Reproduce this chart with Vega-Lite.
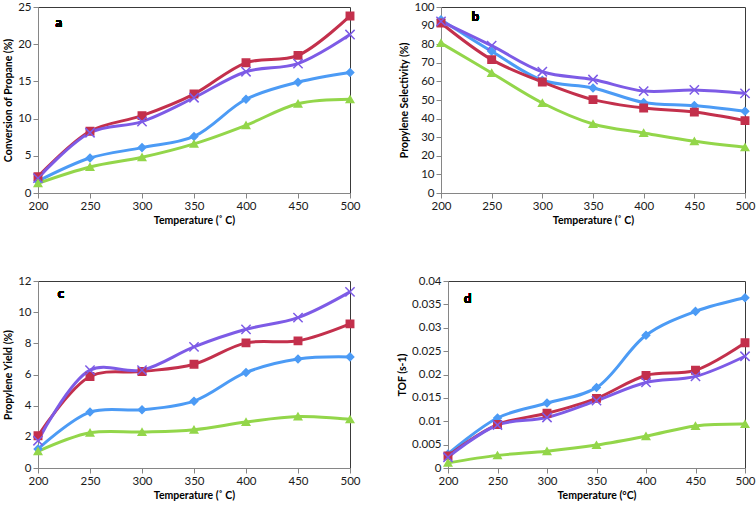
{
  "$schema": "https://vega.github.io/schema/vega-lite/v6.json",
  "background": "white",
  "padding": {"left": 3, "top": 0, "right": 0, "bottom": 0},
  "config": {
    "font": "Lato",
    "view": {"stroke": "#3a3a3a", "strokeWidth": 1},
    "axis": {
      "grid": false,
      "domainColor": "#868686",
      "tickColor": "#868686",
      "tickSize": 5,
      "labelFlush": false,
      "labelOverlap": false,
      "labelFont": "Lato",
      "labelFontSize": 11.5,
      "labelColor": "#1a1a1a",
      "titleFont": "Lato",
      "titleFontSize": 10.5,
      "titleFontWeight": "bold",
      "titleColor": "#000000"
    }
  },
  "datasets": {
    "a": [
      {"series": "S1", "temp": 200, "value": 1.6}, {"series": "S1", "temp": 250, "value": 4.7}, {"series": "S1", "temp": 300, "value": 6.1}, {"series": "S1", "temp": 350, "value": 7.6}, {"series": "S1", "temp": 400, "value": 12.6}, {"series": "S1", "temp": 450, "value": 14.9}, {"series": "S1", "temp": 500, "value": 16.2},
      {"series": "S2", "temp": 200, "value": 2.2}, {"series": "S2", "temp": 250, "value": 8.3}, {"series": "S2", "temp": 300, "value": 10.4}, {"series": "S2", "temp": 350, "value": 13.3}, {"series": "S2", "temp": 400, "value": 17.5}, {"series": "S2", "temp": 450, "value": 18.5}, {"series": "S2", "temp": 500, "value": 23.8},
      {"series": "S3", "temp": 200, "value": 2.0}, {"series": "S3", "temp": 250, "value": 8.1}, {"series": "S3", "temp": 300, "value": 9.6}, {"series": "S3", "temp": 350, "value": 12.8}, {"series": "S3", "temp": 400, "value": 16.3}, {"series": "S3", "temp": 450, "value": 17.4}, {"series": "S3", "temp": 500, "value": 21.3},
      {"series": "S4", "temp": 200, "value": 1.3}, {"series": "S4", "temp": 250, "value": 3.5}, {"series": "S4", "temp": 300, "value": 4.8}, {"series": "S4", "temp": 350, "value": 6.6}, {"series": "S4", "temp": 400, "value": 9.1}, {"series": "S4", "temp": 450, "value": 12.0}, {"series": "S4", "temp": 500, "value": 12.6}
    ],
    "b": [
      {"series": "S1", "temp": 200, "value": 93.2}, {"series": "S1", "temp": 250, "value": 76.2}, {"series": "S1", "temp": 300, "value": 60.6}, {"series": "S1", "temp": 350, "value": 56.5}, {"series": "S1", "temp": 400, "value": 48.7}, {"series": "S1", "temp": 450, "value": 47.0}, {"series": "S1", "temp": 500, "value": 43.9},
      {"series": "S2", "temp": 200, "value": 91.4}, {"series": "S2", "temp": 250, "value": 71.7}, {"series": "S2", "temp": 300, "value": 59.7}, {"series": "S2", "temp": 350, "value": 50.2}, {"series": "S2", "temp": 400, "value": 45.7}, {"series": "S2", "temp": 450, "value": 43.5}, {"series": "S2", "temp": 500, "value": 38.9},
      {"series": "S3", "temp": 200, "value": 92.3}, {"series": "S3", "temp": 250, "value": 79.2}, {"series": "S3", "temp": 300, "value": 65.2}, {"series": "S3", "temp": 350, "value": 61.0}, {"series": "S3", "temp": 400, "value": 54.8}, {"series": "S3", "temp": 450, "value": 55.4}, {"series": "S3", "temp": 500, "value": 53.6},
      {"series": "S4", "temp": 200, "value": 80.6}, {"series": "S4", "temp": 250, "value": 64.5}, {"series": "S4", "temp": 300, "value": 48.4}, {"series": "S4", "temp": 350, "value": 37.1}, {"series": "S4", "temp": 400, "value": 32.3}, {"series": "S4", "temp": 450, "value": 27.8}, {"series": "S4", "temp": 500, "value": 24.6}
    ],
    "c": [
      {"series": "S1", "temp": 200, "value": 1.22}, {"series": "S1", "temp": 250, "value": 3.59}, {"series": "S1", "temp": 300, "value": 3.74}, {"series": "S1", "temp": 350, "value": 4.29}, {"series": "S1", "temp": 400, "value": 6.13}, {"series": "S1", "temp": 450, "value": 7.0}, {"series": "S1", "temp": 500, "value": 7.13},
      {"series": "S2", "temp": 200, "value": 2.07}, {"series": "S2", "temp": 250, "value": 5.87}, {"series": "S2", "temp": 300, "value": 6.19}, {"series": "S2", "temp": 350, "value": 6.66}, {"series": "S2", "temp": 400, "value": 8.03}, {"series": "S2", "temp": 450, "value": 8.16}, {"series": "S2", "temp": 500, "value": 9.25},
      {"series": "S3", "temp": 200, "value": 1.75}, {"series": "S3", "temp": 250, "value": 6.28}, {"series": "S3", "temp": 300, "value": 6.28}, {"series": "S3", "temp": 350, "value": 7.77}, {"series": "S3", "temp": 400, "value": 8.9}, {"series": "S3", "temp": 450, "value": 9.65}, {"series": "S3", "temp": 500, "value": 11.3},
      {"series": "S4", "temp": 200, "value": 1.07}, {"series": "S4", "temp": 250, "value": 2.26}, {"series": "S4", "temp": 300, "value": 2.31}, {"series": "S4", "temp": 350, "value": 2.46}, {"series": "S4", "temp": 400, "value": 2.95}, {"series": "S4", "temp": 450, "value": 3.31}, {"series": "S4", "temp": 500, "value": 3.12}
    ],
    "d": [
      {"series": "S1", "temp": 200, "value": 0.003}, {"series": "S1", "temp": 250, "value": 0.0107}, {"series": "S1", "temp": 300, "value": 0.0139}, {"series": "S1", "temp": 350, "value": 0.0172}, {"series": "S1", "temp": 400, "value": 0.0284}, {"series": "S1", "temp": 450, "value": 0.0335}, {"series": "S1", "temp": 500, "value": 0.0364},
      {"series": "S2", "temp": 200, "value": 0.0026}, {"series": "S2", "temp": 250, "value": 0.0093}, {"series": "S2", "temp": 300, "value": 0.0117}, {"series": "S2", "temp": 350, "value": 0.0149}, {"series": "S2", "temp": 400, "value": 0.0198}, {"series": "S2", "temp": 450, "value": 0.0209}, {"series": "S2", "temp": 500, "value": 0.0268},
      {"series": "S3", "temp": 200, "value": 0.0023}, {"series": "S3", "temp": 250, "value": 0.0092}, {"series": "S3", "temp": 300, "value": 0.0108}, {"series": "S3", "temp": 350, "value": 0.0144}, {"series": "S3", "temp": 400, "value": 0.0183}, {"series": "S3", "temp": 450, "value": 0.0196}, {"series": "S3", "temp": 500, "value": 0.0239},
      {"series": "S4", "temp": 200, "value": 0.0011}, {"series": "S4", "temp": 250, "value": 0.0027}, {"series": "S4", "temp": 300, "value": 0.0036}, {"series": "S4", "temp": 350, "value": 0.0049}, {"series": "S4", "temp": 400, "value": 0.0068}, {"series": "S4", "temp": 450, "value": 0.009}, {"series": "S4", "temp": 500, "value": 0.0094}
    ]
  },
  "vconcat": [
    {
      "hconcat": [
        {
          "width": 312, "height": 186,
          "data": {"name": "a"},
          "encoding": {
            "x": {"field": "temp", "type": "quantitative", "scale": {"domain": [200, 500]}, "axis": {"values": [200, 250, 300, 350, 400, 450, 500], "title": "Temperature (˚ C)"}},
            "y": {"field": "value", "type": "quantitative", "scale": {"domain": [0, 25]}, "axis": {"values": [0, 5, 10, 15, 20, 25], "title": "Conversion of Propane (%)"}}
          },
          "layer": [
            {"mark": {"type": "line", "interpolate": "catmull-rom", "strokeWidth": 3},
             "encoding": {
               "color": {"field": "series", "type": "nominal", "scale": {"domain": ["S1", "S2", "S3", "S4"], "range": ["#4c9bf5", "#c3304c", "#7d5be6", "#93d64a"]}, "legend": null}
             }},
            {"mark": {"type": "point", "size": 55, "opacity": 1, "strokeWidth": 1.5},
             "encoding": {
               "fill": {"field": "series", "type": "nominal", "scale": {"domain": ["S1", "S2", "S3", "S4"], "range": ["#4c9bf5", "#c3304c", "#7d5be6", "#93d64a"]}, "legend": null},
               "stroke": {"field": "series", "type": "nominal", "scale": {"domain": ["S1", "S2", "S3", "S4"], "range": ["#4c9bf5", "#c3304c", "#7d5be6", "#93d64a"]}, "legend": null},
               "shape": {"field": "series", "type": "nominal", "scale": {"domain": ["S1", "S2", "S3", "S4"], "range": ["diamond", "square", "M-1.25,-1.25L1.25,1.25M-1.25,1.25L1.25,-1.25", "triangle-up"]}, "legend": null}
             }},
            {"mark": {"type": "text", "fontWeight": "bold", "fontSize": 13, "font": "Lato"},
             "encoding": {"x": {"datum": 220, "type": "quantitative"}, "y": {"datum": 22.9, "type": "quantitative"}, "text": {"value": "a"}}}
          ]
        },
        {
          "width": 304, "height": 186,
          "data": {"name": "b"},
          "encoding": {
            "x": {"field": "temp", "type": "quantitative", "scale": {"domain": [200, 500]}, "axis": {"values": [200, 250, 300, 350, 400, 450, 500], "title": "Temperature (˚ C)"}},
            "y": {"field": "value", "type": "quantitative", "scale": {"domain": [0, 100]}, "axis": {"values": [0, 10, 20, 30, 40, 50, 60, 70, 80, 90, 100], "title": "Propylene Selectivity (%)"}}
          },
          "layer": [
            {"mark": {"type": "line", "interpolate": "catmull-rom", "strokeWidth": 3},
             "encoding": {
               "color": {"field": "series", "type": "nominal", "scale": {"domain": ["S1", "S2", "S3", "S4"], "range": ["#4c9bf5", "#c3304c", "#7d5be6", "#93d64a"]}, "legend": null}
             }},
            {"mark": {"type": "point", "size": 55, "opacity": 1, "strokeWidth": 1.5},
             "encoding": {
               "fill": {"field": "series", "type": "nominal", "scale": {"domain": ["S1", "S2", "S3", "S4"], "range": ["#4c9bf5", "#c3304c", "#7d5be6", "#93d64a"]}, "legend": null},
               "stroke": {"field": "series", "type": "nominal", "scale": {"domain": ["S1", "S2", "S3", "S4"], "range": ["#4c9bf5", "#c3304c", "#7d5be6", "#93d64a"]}, "legend": null},
               "shape": {"field": "series", "type": "nominal", "scale": {"domain": ["S1", "S2", "S3", "S4"], "range": ["diamond", "square", "M-1.25,-1.25L1.25,1.25M-1.25,1.25L1.25,-1.25", "triangle-up"]}, "legend": null}
             }},
            {"mark": {"type": "text", "fontWeight": "bold", "fontSize": 13, "font": "Lato"},
             "encoding": {"x": {"datum": 234, "type": "quantitative"}, "y": {"datum": 94.5, "type": "quantitative"}, "text": {"value": "b"}}}
          ]
        }
      ],
      "spacing": 91,
      "bounds": "flush",
      "resolve": {"scale": {"x": "independent", "y": "independent"}}
    },
    {
      "hconcat": [
        {
          "width": 312, "height": 187,
          "data": {"name": "c"},
          "encoding": {
            "x": {"field": "temp", "type": "quantitative", "scale": {"domain": [200, 500]}, "axis": {"values": [200, 250, 300, 350, 400, 450, 500], "title": "Temperature (˚ C)"}},
            "y": {"field": "value", "type": "quantitative", "scale": {"domain": [0, 12]}, "axis": {"values": [0, 2, 4, 6, 8, 10, 12], "title": "Propylene Yield (%)"}}
          },
          "layer": [
            {"mark": {"type": "line", "interpolate": "catmull-rom", "strokeWidth": 3},
             "encoding": {
               "color": {"field": "series", "type": "nominal", "scale": {"domain": ["S1", "S2", "S3", "S4"], "range": ["#4c9bf5", "#c3304c", "#7d5be6", "#93d64a"]}, "legend": null}
             }},
            {"mark": {"type": "point", "size": 55, "opacity": 1, "strokeWidth": 1.5},
             "encoding": {
               "fill": {"field": "series", "type": "nominal", "scale": {"domain": ["S1", "S2", "S3", "S4"], "range": ["#4c9bf5", "#c3304c", "#7d5be6", "#93d64a"]}, "legend": null},
               "stroke": {"field": "series", "type": "nominal", "scale": {"domain": ["S1", "S2", "S3", "S4"], "range": ["#4c9bf5", "#c3304c", "#7d5be6", "#93d64a"]}, "legend": null},
               "shape": {"field": "series", "type": "nominal", "scale": {"domain": ["S1", "S2", "S3", "S4"], "range": ["diamond", "square", "M-1.25,-1.25L1.25,1.25M-1.25,1.25L1.25,-1.25", "triangle-up"]}, "legend": null}
             }},
            {"mark": {"type": "text", "fontWeight": "bold", "fontSize": 13, "font": "Lato"},
             "encoding": {"x": {"datum": 222, "type": "quantitative"}, "y": {"datum": 11.15, "type": "quantitative"}, "text": {"value": "c"}}}
          ]
        },
        {
          "width": 297, "height": 187,
          "data": {"name": "d"},
          "encoding": {
            "x": {"field": "temp", "type": "quantitative", "scale": {"domain": [200, 500]}, "axis": {"values": [200, 250, 300, 350, 400, 450, 500], "title": "Temperature (°C)"}},
            "y": {"field": "value", "type": "quantitative", "scale": {"domain": [0, 0.04]}, "axis": {"values": [0, 0.005, 0.01, 0.015, 0.02, 0.025, 0.03, 0.035, 0.04], "format": ".3~f", "title": "TOF (s-1)"}}
          },
          "layer": [
            {"mark": {"type": "line", "interpolate": "catmull-rom", "strokeWidth": 3},
             "encoding": {
               "color": {"field": "series", "type": "nominal", "scale": {"domain": ["S1", "S2", "S3", "S4"], "range": ["#4c9bf5", "#c3304c", "#7d5be6", "#93d64a"]}, "legend": null}
             }},
            {"mark": {"type": "point", "size": 55, "opacity": 1, "strokeWidth": 1.5},
             "encoding": {
               "fill": {"field": "series", "type": "nominal", "scale": {"domain": ["S1", "S2", "S3", "S4"], "range": ["#4c9bf5", "#c3304c", "#7d5be6", "#93d64a"]}, "legend": null},
               "stroke": {"field": "series", "type": "nominal", "scale": {"domain": ["S1", "S2", "S3", "S4"], "range": ["#4c9bf5", "#c3304c", "#7d5be6", "#93d64a"]}, "legend": null},
               "shape": {"field": "series", "type": "nominal", "scale": {"domain": ["S1", "S2", "S3", "S4"], "range": ["diamond", "square", "M-1.25,-1.25L1.25,1.25M-1.25,1.25L1.25,-1.25", "triangle-up"]}, "legend": null}
             }},
            {"mark": {"type": "text", "fontWeight": "bold", "fontSize": 13, "font": "Lato"},
             "encoding": {"x": {"datum": 220, "type": "quantitative"}, "y": {"datum": 0.0361, "type": "quantitative"}, "text": {"value": "d"}}}
          ]
        }
      ],
      "spacing": 98,
      "bounds": "flush",
      "resolve": {"scale": {"x": "independent", "y": "independent"}}
    }
  ],
  "spacing": 47,
  "resolve": {"scale": {"x": "independent", "y": "independent"}}
}
